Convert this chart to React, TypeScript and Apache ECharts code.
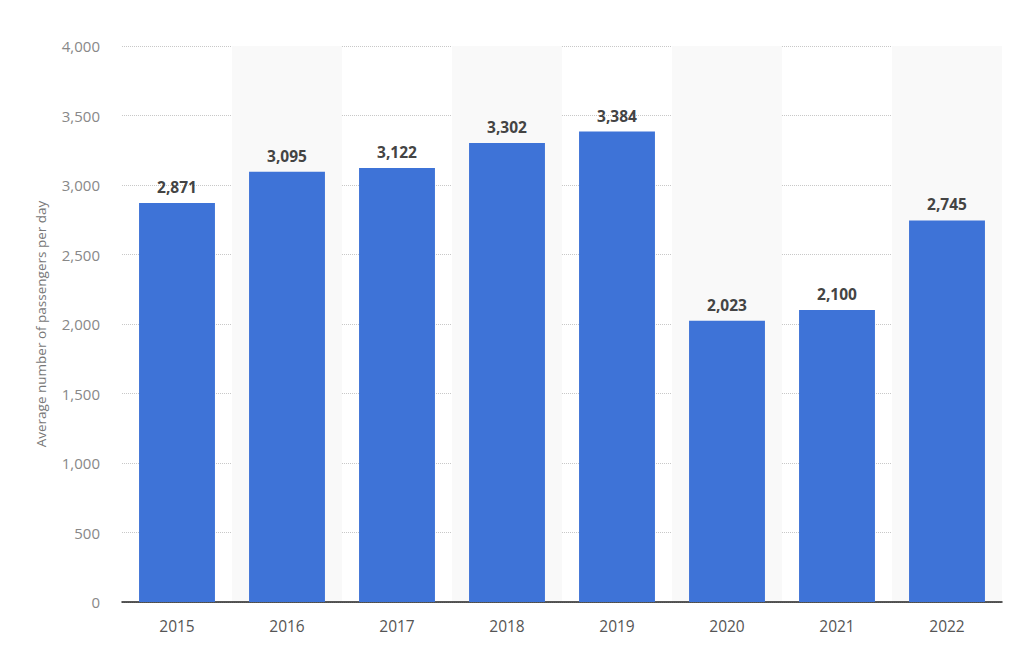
import React, { useEffect, useRef } from 'react';
import * as echarts from 'echarts';

const years = ['2015', '2016', '2017', '2018', '2019', '2020', '2021', '2022'];
const passengers = [2871, 3095, 3122, 3302, 3384, 2023, 2100, 2745];
const yTicks = { min: 0, max: 4000, interval: 500 };
const yTitle = 'Average number of passengers per day';

const fmt = (v: number) => v.toLocaleString('en-US');

const App: React.FC = () => {
  const chartRef = useRef<HTMLDivElement>(null);

  useEffect(() => {
    if (!chartRef.current) return;
    const chart = echarts.init(chartRef.current, undefined, { renderer: 'svg' });

    const option: any = {
      animation: false,
      backgroundColor: '#ffffff',
      textStyle: { fontFamily: 'Open Sans' },
      // the div sits at the body's 8px margin
      grid: { left: 114, right: 14, top: 38, bottom: 50 },
      xAxis: {
        type: 'category',
        data: years,
        axisLine: { lineStyle: { color: '#222', width: 1.5 } },
        axisTick: { show: false },
        axisLabel: { color: '#555', fontSize: 15.5, margin: 16, fontFamily: 'Open Sans' },
        splitArea: { show: true, areaStyle: { color: ['rgba(255,255,255,0)', '#f9f9f9'] } },
      },
      yAxis: {
        type: 'value',
        min: yTicks.min,
        max: yTicks.max,
        interval: yTicks.interval,
        name: yTitle,
        nameLocation: 'middle',
        nameGap: 74,
        nameTextStyle: { color: '#777', fontSize: 13.5, fontFamily: 'Open Sans' },
        axisLine: { show: false },
        axisTick: { show: false },
        axisLabel: { color: '#888', fontSize: 15, margin: 22, formatter: (v: number) => fmt(v), fontFamily: 'Open Sans' },
        splitLine: { lineStyle: { color: '#c8c8c8', type: 'dotted', width: 1 } },
      },
      series: [
        {
          type: 'bar',
          data: passengers,
          barWidth: '69%',
          itemStyle: { color: '#3e73d7' },
          label: {
            show: true,
            position: 'top',
            distance: 8,
            color: '#444',
            fontSize: 15.5,
            fontWeight: 'bold',
            fontFamily: 'Open Sans',
            formatter: (p: any) => fmt(p.value),
          },
        },
      ],
    };

    chart.setOption(option);
    return () => chart.dispose();
  }, []);

  return <div ref={chartRef} style={{ width: 1008, height: 644 }} />;
};

export default App;
